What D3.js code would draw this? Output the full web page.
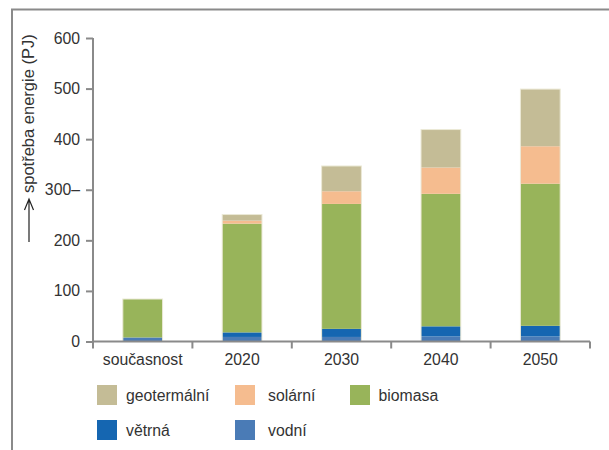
<!DOCTYPE html>
<html>
<head>
<meta charset="utf-8">
<script src="https://cdn.jsdelivr.net/npm/d3@7"></script>
<style>
  body { margin: 0; background: #fff; }
  svg { display: block; font-family: "Liberation Sans", Arial, sans-serif; }
  .axis path, .axis line { stroke: #8a8a8a; stroke-width: 2; }
  .axis text { fill: #333; font-size: 15.8px; }
</style>
</head>
<body>
<svg id="chart" width="609" height="450"></svg>
<script>
// data
const categories = ["současnost", "2020", "2030", "2040", "2050"];
const vodni      = [8, 9, 9, 10, 10];
const vetrna     = [0, 9, 16, 20, 21];
const biomasa    = [76, 215, 247, 262, 281];
const solarni    = [0, 6, 25, 52, 74];
const geotermalni = [0, 12, 50, 75, 113];
const yTicks = [0, 100, 200, 300, 400, 500, 600];

const series = [
  { key: "vodní", values: vodni, color: "#4a7bb6" },
  { key: "větrná", values: vetrna, color: "#1566b1" },
  { key: "biomasa", values: biomasa, color: "#98b45a" },
  { key: "solární", values: solarni, color: "#f5bc8f" },
  { key: "geotermální", values: geotermalni, color: "#c4bc96" }
];

const svg = d3.select("#chart");

// frame
svg.append("path")
  .attr("d", "M12,450V9.5H609")
  .attr("fill", "none")
  .attr("stroke", "#8a8a8a")
  .attr("stroke-width", 2);

let x = d3.scaleBand().domain(categories).range([93, 590]).paddingInner(0.6).paddingOuter(0.3);
let y = d3.scaleLinear().domain([0, 600]).range([341.5, 38]);

// stack
const table = categories.map((c, i) => {
  const row = { cat: c };
  series.forEach(s => row[s.key] = s.values[i]);
  return row;
});
const stacked = d3.stack().keys(series.map(s => s.key))(table);
const color = d3.scaleOrdinal().domain(series.map(s => s.key)).range(series.map(s => s.color));

const g = svg.append("g");
g.selectAll("g.layer")
  .data(stacked)
  .enter()
  .append("g")
  .attr("class", "layer")
  .attr("fill", d => color(d.key))
  .selectAll("rect")
  .data(d => d)
  .enter()
  .append("rect")
  .attr("x", d => x(d.data.cat))
  .attr("y", d => y(d[1]))
  .attr("width", x.bandwidth())
  .attr("height", d => y(d[0]) - y(d[1]));

// light outline around bars
g.selectAll("rect.outline")
  .data(table)
  .enter()
  .append("rect")
  .attr("class", "outline")
  .attr("x", d => x(d.cat))
  .attr("y", d => y(d3.sum(series, s => d[s.key])))
  .attr("width", x.bandwidth())
  .attr("height", d => y(0) - y(d3.sum(series, s => d[s.key])))
  .attr("fill", "none")
  .attr("stroke", "#ebe9d6")
  .attr("stroke-width", 1);

// y axis
svg.append("g")
  .attr("class", "axis")
  .attr("transform", "translate(93,0)")
  .call(d3.axisLeft(y).tickValues(yTicks).tickSize(7).tickPadding(6)
    .tickFormat(d => d === 300 ? "300–" : d))
  .call(a => a.select(".domain").attr("d", "M0," + y(600) + "V" + y(0)));

// x axis
const xa = svg.append("g")
  .attr("class", "axis")
  .attr("transform", "translate(0," + y(0) + ")")
  .call(d3.axisBottom(x).tickSize(0).tickPadding(12));
xa.select(".domain").attr("d", "M93,0H590");
const gap = (x.step() - x.bandwidth()) / 2;
const bounds = categories.map(c => x(c) - gap).concat([x(categories[categories.length - 1]) + x.bandwidth() + gap]);
xa.selectAll("line.bound")
  .data(bounds)
  .enter()
  .append("line")
  .attr("class", "bound")
  .attr("x1", d => d).attr("x2", d => d)
  .attr("y1", 0).attr("y2", 7);

// y title with arrow
const title = svg.append("g").attr("transform", "translate(33.5,0)");
title.append("text")
  .attr("transform", "rotate(-90)")
  .attr("x", -193)
  .attr("y", 0)
  .attr("fill", "#333")
  .style("font-size", "16.5px")
  .text("spotřeba energie (PJ)");
title.append("path")
  .attr("d", "M-4.5,242V200M-9,210L-4.5,199L0,210")
  .attr("fill", "none")
  .attr("stroke", "#222")
  .attr("stroke-width", 1.2);

// legend
const legendOrder = ["geotermální", "solární", "biomasa", "větrná", "vodní"];
const colX = [97, 235, 350];
const rowY = [385, 420];
const legend = svg.selectAll("g.legend")
  .data(legendOrder)
  .enter()
  .append("g")
  .attr("class", "legend")
  .attr("transform", (d, i) => "translate(" + colX[i % 3] + "," + rowY[Math.floor(i / 3)] + ")");
legend.append("rect")
  .attr("width", 20)
  .attr("height", 20)
  .attr("fill", d => color(d));
legend.append("text")
  .attr("x", d => d === "biomasa" ? 28.5 : (d === "solární" || d === "vodní" ? 33 : 29))
  .attr("y", 16)
  .attr("fill", "#333")
  .style("font-size", "15.8px")
  .text(d => d);
</script>
</body>
</html>
